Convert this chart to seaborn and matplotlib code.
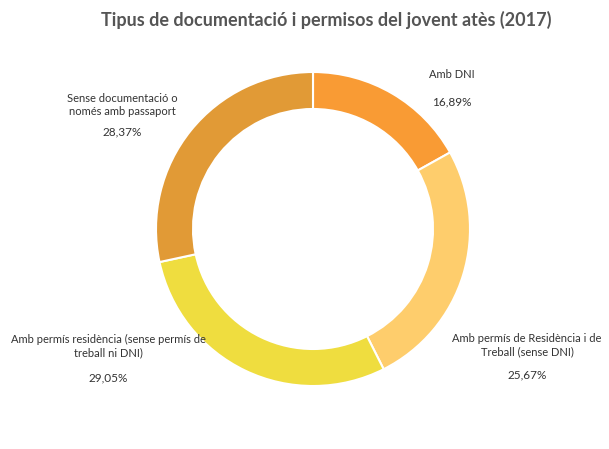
import matplotlib
matplotlib.use("Agg")
import matplotlib.pyplot as plt
import seaborn as sns

categories = [
    "Amb DNI",
    "Amb permís de Residència i de\nTreball (sense DNI)",
    "Amb permís residència (sense permís de\ntreball ni DNI)",
    "Sense documentació o\nnomés amb passaport",
]
values = [16.89, 25.67, 29.05, 28.37]
pct_labels = ["16,89%", "25,67%", "29,05%", "28,37%"]
title = "Tipus de documentació i permisos del jovent atès (2017)"

sns.set_theme(style="white")
plt.rcParams['font.family'] = ['Lato', 'DejaVu Sans']

colors = ["#F99B34", "#FECD6C", "#EFDD3F", "#E19A36"]

W, H = 609, 449
fig = plt.figure(figsize=(W / 100, H / 100), dpi=100)
ax = fig.add_axes([0, 0, 1, 1])

cx, cy, R = 313, H - 229, 157
ax.pie(values, colors=colors, startangle=90, counterclock=False,
       center=(cx, cy), radius=R,
       wedgeprops=dict(width=37, edgecolor="white", linewidth=1.5),
       frame=True)
ax.set_xlim(0, W)
ax.set_ylim(0, H)
ax.set_aspect("equal")
ax.axis("off")

# label positions (pixel coords: x center, y of name block center, y of pct)
label_pos = [(452, 75, 102), (527, 345, 375), (108, 346, 378), (122, 105, 132)]
for cat, pct, (x, yn, yp) in zip(categories, pct_labels, label_pos):
    ax.text(x, H - yn, cat, ha="center", va="center", fontsize=8,
            color="#333333", linespacing=1.3)
    ax.text(x, H - yp, pct, ha="center", va="center", fontsize=8.5,
            color="#333333")

ax.text(326, H - 20, title, ha="center", va="center", fontsize=13,
        fontweight="bold", color="#555555")

fig.savefig("out.png", dpi=100)
